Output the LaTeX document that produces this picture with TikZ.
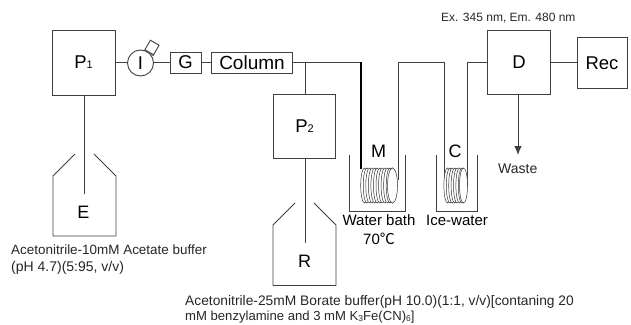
\documentclass[tikz,border=0pt]{standalone}
\usepackage{fontspec}
\usetikzlibrary{arrows.meta}
\setmainfont{Liberation Sans}
\newfontfamily\cjkf{Noto Sans CJK KR}
\newcommand{\fs}[1]{\fontsize{#1}{#1}\selectfont}
\newcommand{\smalldigit}[1]{{\fs{11}#1}}
\newcommand{\subdigit}[1]{\raisebox{-1.5pt}{\fs{8.5}#1}}
\tikzset{
  x=1pt,y=-1pt,
  line/.style={draw=black!75,line width=0.9pt},
  boxa/.style={draw=black!75,line width=0.9pt,inner sep=0pt,font=\fs{18.5}},
  small/.style={inner sep=0pt,anchor=west,font=\fs{13.1},text=black!85},
  mid/.style={inner sep=0pt,font=\fs{15}},
  big/.style={inner sep=0pt,font=\fs{18}},
  coil/.style={draw=black!80,line width=0.5pt},
}
\begin{document}
\begin{tikzpicture}
\useasboundingbox (0,0) rectangle (631,324);
% boxes
\node[boxa,minimum width=63pt,minimum height=65pt] (P1) at (83.5,62.5) {P\smalldigit{1}};
\node[boxa,circle,minimum size=26pt] (I) at (140.5,63) {I};
\node[boxa,minimum width=31pt,minimum height=21pt] (G) at (185.5,62.5) {G};
\node[boxa,minimum width=81pt,minimum height=21pt,font=\fs{19}] (Col) at (252,62.5) {Column};
\node[boxa,minimum width=62pt,minimum height=64pt] (P2) at (304.5,126) {P\smalldigit{2}};
\node[boxa,minimum width=63pt,minimum height=64pt] (D) at (519,62.5) {D};
\node[boxa,minimum width=50pt,minimum height=51pt] (Rec) at (602,63) {Rec};
% injector handle
\node[boxa,rotate=-30,minimum width=10pt,minimum height=11pt] (H) at (152,47.5) {};
\draw[line] (I.72) -- (H.south west);
\draw[line] (I.38) -- (H.south east);
% junction coordinates
\coordinate (J1) at (305,62);
\coordinate (A1) at (361,62);
\coordinate (A2) at (361,169);
\coordinate (B1) at (398,62);
\coordinate (B2) at (398,180);
\coordinate (C1) at (444,62);
\coordinate (C2) at (444,178);
\coordinate (D1) at (467,62);
\coordinate (D2) at (467,186);
\coordinate (E0) at (84,95);
\coordinate (E1) at (84,194);
\coordinate (R0) at (305,158);
\coordinate (R1) at (305,243);
\coordinate (W0) at (518,95);
\coordinate (W) at (518,155);
% flow lines
\draw[line] (P1.east|-0,62.5) -- (I.west|-0,62.5);
\draw[line] (I.east|-0,62.5) -- (G.west);
\draw[line] (G.east) -- (Col.west);
\draw[line] (Col.east|-0,62) -- (A1);
\draw[black,line width=1.2pt] (A1) -- (A2);
\draw[line] (J1) -- (R0|-P2.north);
\draw[line] (B2) -- (B1) -- (C1) -- (C2);
\draw[line] (D.west|-0,62) -- (D1) -- (D2);
\draw[line] (D.east|-0,62) -- (Rec.west|-0,62);
\draw[line] (E0) -- (E1);
\draw[line] (R0) -- (R1);
\draw[line,-{Latex[length=9pt,width=7.5pt]}] (W0) -- (W);
% bottles
\draw[line,line join=round] (75,154) -- (53,176) -- (53,236) -- (116,236) -- (116,176) -- (94,154);
\draw[line,line join=round] (295,203) -- (273,225) -- (273,285.5) -- (336,285.5) -- (336,225) -- (314,203);
\node[big] (E) at (83.5,212) {E};
\node[big] (R) at (304.5,261) {R};
% baths
\draw[line] (349,155) -- (349,211) -- (405,211) -- (405,155);
\draw[line] (436,155) -- (436,211) -- (477,211) -- (477,155);
% coils
\foreach \i in {0,...,11}{
  \draw[coil,fill=white] ({364.5+\i*2.55},185.5) ellipse [x radius=3.8pt,y radius=17.5pt];
}
\draw[coil,fill=white] (392.5,185.5) ellipse [x radius=5pt,y radius=17.5pt];
\foreach \i in {0,...,6}{
  \draw[coil,fill=white] ({447.5+\i*2.4},185.5) ellipse [x radius=3.6pt,y radius=17.5pt];
}
\draw[coil,fill=white] (463.5,185.5) ellipse [x radius=4pt,y radius=17.5pt];
% labels
\node[big] (M) at (378.5,151.5) {M};
\node[big] (Cl) at (455,151.5) {C};
\node[mid] (wb) at (379,220) {Water bath};
\node[mid] (t70) at (379,238.5) {70{\cjkf ℃}};
\node[mid] (ice) at (457,220) {Ice-water};
\node[small,font=\fs{14}] (waste) at (498,169) {Waste};
\node[small,font=\fs{12}] (ex) at (441,18) {Ex. 345 nm, Em. 480 nm};
\node[small,font=\fs{13.45}] (t1) at (11,250) {Acetonitrile-10mM Acetate buffer};
\node[small,font=\fs{14}] (t2) at (11,267.5) {(pH 4.7)(5:95, v/v)};
\node[small,font=\fs{13.8}] (t3) at (185,302) {Acetonitrile-25mM Borate buffer(pH 10.0)(1:1, v/v)[contaning 20};
\node[small] (t4) at (185,317) {mM benzylamine and 3 mM K\subdigit{3}Fe(CN)\subdigit{6}]};
\end{tikzpicture}
\end{document}
